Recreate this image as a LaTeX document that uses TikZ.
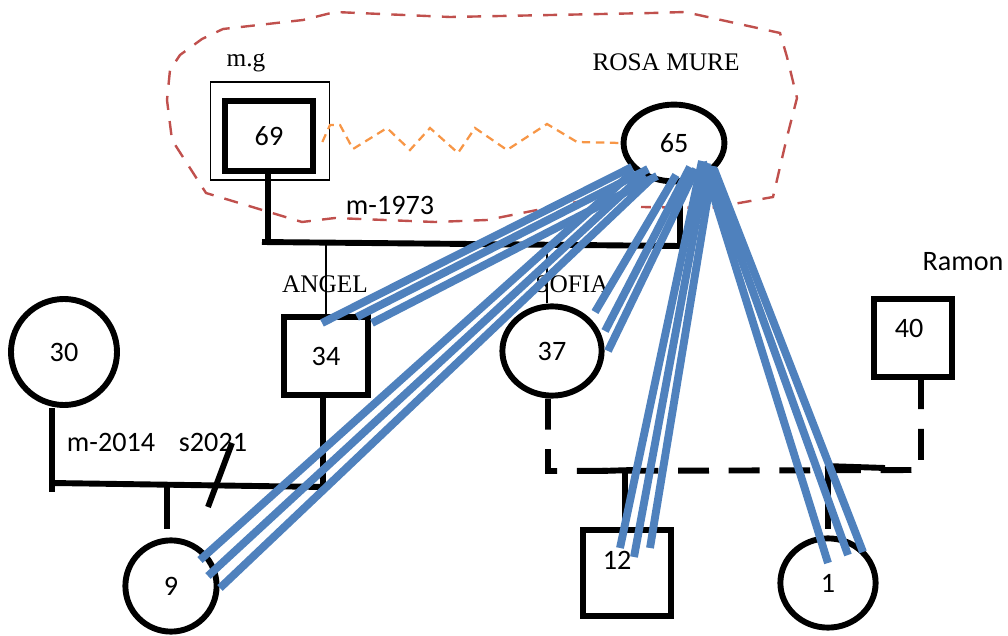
\documentclass[tikz,border=0pt]{standalone}
\usepackage{fontspec}
\setmainfont{Carlito}
\newfontfamily\namefont{Liberation Serif}
\usetikzlibrary{shapes.geometric,calc}
\definecolor{tieblue}{HTML}{4F81BD}
\definecolor{cloudred}{HTML}{C0504D}
\definecolor{fightorange}{HTML}{F79646}

\begin{document}
\begin{tikzpicture}[
  x=0.025cm,y=-0.025cm,
  female/.style={ellipse,draw,line width=4.2pt,inner sep=0pt,font=\fontsize{20}{24}\selectfont},
  male/.style={rectangle,draw,line width=4.2pt,inner sep=0pt,font=\fontsize{20}{24}\selectfont},
  numtext/.style={font=\fontsize{20}{24}\selectfont},
  nametext/.style={font=\namefont\fontsize{18}{22}\selectfont},
  rel/.style={line width=4.2pt},
  reldash/.style={line width=4.2pt,dash pattern=on 22pt off 14pt},
  link/.style={line width=0.8pt},
  tie/.style={tieblue,line width=5.6pt},
  cloud/.style={cloudred,line width=1.7pt,dash pattern=on 10pt off 8pt},
  fight/.style={fightorange,line width=1.6pt,dash pattern=on 6pt off 4pt}
]
  \useasboundingbox (0,0) rectangle (1008,636);
  \draw[cloud] (587,200) -- (487,220) -- (435,222) -- (335,218) -- (302,222) -- (206,193)
    -- (172,140) -- (167,100) -- (170,70) -- (180,55) -- (202,39) -- (223,29) -- (303,20) -- (335,12)
    -- (450,17) -- (652,13) -- (685,12) -- (780,33) -- (787,57) -- (797,98) -- (787,137) -- (773,197)
    -- (711,208) -- (641,207);
  \node[male,line width=1pt,minimum width=2.98cm,minimum height=2.45cm] (n69out) at (270,131) {};
  \node[male,line width=4.6pt,minimum width=2.2cm,minimum height=1.75cm] (n69in) at (269,136) {69};
  \node[female,minimum width=2.52cm,minimum height=1.92cm] (n65) at (674,143) {65};
  \node[female,minimum width=2.65cm,minimum height=2.65cm] (n30) at (64,352) {30};
  \node[male,minimum width=2.08cm,minimum height=1.93cm] (n34) at (326,356) {34};
  \node[female,minimum width=2.48cm,minimum height=2.23cm] (n37) at (552,351) {37};
  \node[male,minimum width=1.95cm,minimum height=1.95cm,label={[numtext,shift={(-4,-10)}]center:40}] (n40) at (913,338) {};
  \node[female,minimum width=2.28cm,minimum height=2.28cm] (n9) at (171,586) {9};
  \node[male,minimum width=2.2cm,minimum height=2.15cm,label={[numtext,shift={(-10,-13)}]center:12}] (n12) at (627,573) {};
  \node[female,minimum width=2.38cm,minimum height=2.23cm] (n1) at (828,583) {1};
  \draw[fight] ($(n69out.east)+(-8,11)$) -- (330,125) -- (340,125) -- (353,149) -- (387,128) -- (410,150)
    -- (430,128) -- (458,153) -- (475,128) -- (507,150) -- (547,124) -- (577,142) -- (n65.west);
  \node[nametext] (mg) at (246,63) {m.g};
  \node[nametext] (rosa) at (666,62) {ROSA MURE};
  \node[numtext] (m1973) at (390,205) {m-1973};
  \node[nametext] (angel) at (325,284) {ANGEL};
  \node[nametext] (sofia) at (572,284) {SOFIA};
  \node[numtext] (m2014) at (111,442) {m-2014};
  \node[numtext] (s2021) at (213,442) {s2021};
  \node[numtext] (ramon) at (963,262) {Ramon};
  \coordinate (mL) at (268,242);
  \coordinate (mR) at (680,246);
  \coordinate (sL) at (547,244);
  \draw[rel] (mL |- n69in.south) -- (mL);
  \draw[rel] ($(mL)+(-6,0)$) -- (mR) -- (mR |- n65.south);
  \draw[link] (n34.north) -- (n34.north |- mL);
  \draw[link] (sL) -- (sL |- n37.north);
  \coordinate (aL) at (52,483);
  \coordinate (aR) at (323,487);
  \coordinate (k9) at (167,485);
  \coordinate (s1) at (208,507);
  \coordinate (s2) at (232,443);
  \draw[rel] (aL |- n30.south) -- ($(aL)+(0,9)$);
  \draw[rel] (aL) -- (aR) -- (aR |- n34.south);
  \draw[rel] (k9) -- ($(k9 |- n9.north)+(0,-8)$);
  \draw[rel] (s1) -- (s2);
  \coordinate (bL) at (548,471);
  \coordinate (bR) at (921,470);
  \coordinate (k12) at (625,470);
  \coordinate (k1) at (828,466);
  \draw[reldash] (bL |- n37.south) -- (bL) -- (bR) -- (bR |- n40.south);
  \draw[rel] ($(k12)+(-24,1)$) -- ($(k12)+(8,0)$);
  \draw[rel] (k12) -- ($(k12 |- n12.north)+(0,-8)$);
  \draw[rel] ($(k1)+(-3,0)$) -- ($(k1)+(57,2)$);
  \draw[rel] (k1) -- ($(k1 |- n1.north)+(0,-6)$);
  \draw[tie] ([shift={(-42,24)}]n65.center) -- ([shift={(-4,-33)}]n34.center);
  \draw[tie] ([shift={(-26,26)}]n65.center) -- ([shift={(31,-39)}]n34.center);
  \draw[tie] ([shift={(-17,33)}]n65.center) -- ([shift={(46,-33)}]n34.center);
  \draw[tie] ([shift={(-40,28)}]n65.center) -- ([shift={(29,-26)}]n9.center);
  \draw[tie] ([shift={(-30,31)}]n65.center) -- ([shift={(37,-10)}]n9.center);
  \draw[tie] ([shift={(-23,36)}]n65.center) -- ([shift={(49,2)}]n9.center);
  \draw[tie] ([shift={(2,32)}]n65.center) -- ([shift={(43,-39)}]n37.center);
  \draw[tie] ([shift={(16,24)}]n65.center) -- ([shift={(53,-20)}]n37.center);
  \draw[tie] ([shift={(22,26)}]n65.center) -- ([shift={(56,0)}]n37.center);
  \draw[tie] ([shift={(28,18)}]n65.center) -- ([shift={(-7,-25)}]n12.center);
  \draw[tie] ([shift={(33,20)}]n65.center) -- ([shift={(7,-16)}]n12.center);
  \draw[tie] ([shift={(39,23)}]n65.center) -- ([shift={(23,-25)}]n12.center);
  \draw[tie] ([shift={(29,19)}]n65.center) -- ([shift={(0,-20)}]n1.center);
  \draw[tie] ([shift={(34,24)}]n65.center) -- ([shift={(20,-28)}]n1.center);
  \draw[tie] ([shift={(40,26)}]n65.center) -- ([shift={(35,-31)}]n1.center);
\end{tikzpicture}
\end{document}
